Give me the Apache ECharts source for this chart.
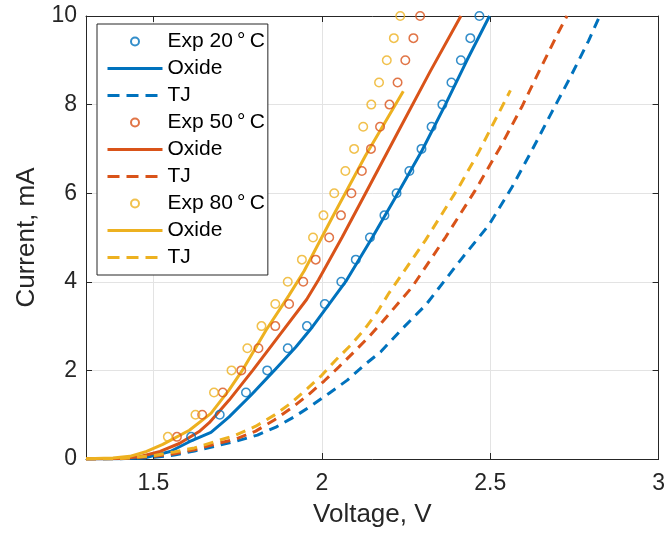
<!DOCTYPE html>
<html><head><meta charset="utf-8">
<script src="https://cdn.jsdelivr.net/npm/echarts@6/dist/echarts.min.js"></script>
<style>html,body{margin:0;padding:0;background:#fff}#c{width:668px;height:533px}</style>
</head><body><div id="c"></div><script>
// Experimental currents (mA) shared by all three temperatures
const expCurrent = [0.5,1,1.5,2,2.5,3,3.5,4,4.5,5,5.5,6,6.5,7,7.5,8,8.5,9,9.5,10];
const exp20V = [1.612,1.697,1.775,1.838,1.899,1.956,2.009,2.058,2.101,2.143,2.186,2.222,2.260,2.296,2.326,2.358,2.385,2.413,2.441,2.468];
const exp50V = [1.570,1.645,1.706,1.761,1.812,1.862,1.903,1.945,1.982,2.022,2.057,2.088,2.119,2.146,2.173,2.201,2.225,2.248,2.272,2.292];
const exp80V = [1.543,1.625,1.680,1.732,1.779,1.821,1.862,1.899,1.941,1.974,2.005,2.037,2.070,2.096,2.123,2.147,2.170,2.193,2.214,2.233];

// Oxide model curves
const oxide20V = [1.3,1.4,1.478,1.55,1.607,1.671,1.725,1.791,1.859,1.923,1.972,2.031,2.074,2.15,2.219,2.298,2.367,2.431,2.498];
const oxide20I = [0,0.006,0.03,0.17,0.39,0.6,0.95,1.45,2.0,2.53,2.98,3.59,4.04,5.0,5.91,6.97,8.0,9.0,10];
const oxide50V = [1.3,1.4,1.459,1.52,1.577,1.636,1.666,1.725,1.795,1.87,1.955,1.99,2.06,2.13,2.229,2.322,2.413];
const oxide50I = [0,0.01,0.05,0.17,0.35,0.62,0.82,1.33,2.0,2.75,3.6,4.04,5.0,6.0,7.42,8.75,10];
const oxide80V = [1.3,1.38,1.43,1.48,1.528,1.607,1.671,1.725,1.764,1.834,1.903,1.948,2.031,2.13,2.242];
const oxide80I = [0.005,0.02,0.06,0.17,0.33,0.65,1.03,1.56,2.0,2.9,3.7,4.25,5.45,6.85,8.3];

// TJ model curves
const tj20V = [1.3,1.4,1.503,1.562,1.622,1.69,1.745,1.809,1.864,1.918,1.972,2.021,2.076,2.126,2.175,2.24,2.308,2.416,2.496,2.565,2.624,2.683,2.738,2.792,2.825];
const tj20I = [0,0.005,0.04,0.09,0.18,0.3,0.4,0.54,0.72,0.95,1.22,1.48,1.78,2.12,2.42,2.95,3.47,4.53,5.28,6.14,6.97,7.83,8.62,9.44,10];
const tj50V = [1.3,1.4,1.503,1.562,1.622,1.69,1.745,1.804,1.859,1.908,1.957,2.007,2.051,2.096,2.14,2.18,2.268,2.367,2.456,2.53,2.594,2.649,2.703,2.728];
const tj50I = [0,0.006,0.06,0.12,0.21,0.35,0.45,0.63,0.88,1.14,1.43,1.76,2.08,2.42,2.76,3.1,3.88,5.0,6.07,7.04,7.95,8.81,9.64,10];
const tj80V = [1.3,1.4,1.503,1.562,1.622,1.69,1.745,1.804,1.859,1.908,1.957,2.0,2.041,2.086,2.126,2.165,2.199,2.308,2.407,2.466,2.56];
const tj80I = [0,0.008,0.08,0.16,0.25,0.41,0.54,0.74,0.99,1.26,1.59,1.89,2.23,2.57,2.92,3.32,3.74,4.94,6.14,6.93,8.32];

const blue = '#0072BD', red = '#D95319', yellow = '#EDB120';
const FONT = '"Liberation Sans", Arial, Helvetica, sans-serif';
const zip = (xs, ys) => xs.map((x, i) => [x, ys[i]]);

function expSeries(name, v, color) {
  return { name, type: 'scatter', data: zip(v, expCurrent), symbol: 'circle', symbolSize: 8.5,
    itemStyle: { color: 'rgba(0,0,0,0)', borderColor: color, borderWidth: 1.5 }, z: 3 };
}
function lineSeries(name, v, i, color, dashed) {
  return { name, type: 'line', data: zip(v, i), symbol: 'none', showSymbol: false,
    lineStyle: { color, width: 3, type: dashed ? [10, 7] : 'solid' }, itemStyle: { color }, z: 3,
    _dashed: dashed };
}

const series = [
  expSeries('Exp 20\u2009°\u2009C', exp20V, blue),
  lineSeries('Oxide#20', oxide20V, oxide20I, blue, false),
  lineSeries('TJ#20', tj20V, tj20I, blue, true),
  expSeries('Exp 50\u2009°\u2009C', exp50V, red),
  lineSeries('Oxide#50', oxide50V, oxide50I, red, false),
  lineSeries('TJ#50', tj50V, tj50I, red, true),
  expSeries('Exp 80\u2009°\u2009C', exp80V, yellow),
  lineSeries('Oxide#80', oxide80V, oxide80I, yellow, false),
  lineSeries('TJ#80', tj80V, tj80I, yellow, true)
];

const axisCol = '#262626';
const chart = echarts.init(document.getElementById('c'), null, { renderer: 'canvas' });
chart.setOption({
  backgroundColor: '#fff',
  animation: false,
  grid: { left: 86, right: 8, top: 16, bottom: 74 },
  xAxis: [
    { type: 'value', min: 1.3, max: 3, splitNumber: 3, position: 'bottom',
      name: 'Voltage, V', nameLocation: 'middle', nameGap: 43,
      nameTextStyle: { fontFamily: FONT, fontSize: 26, color: axisCol },
      axisLine: { show: true, onZero: false, lineStyle: { color: axisCol, width: 1 } },
      axisTick: { show: true, inside: true, length: 6, lineStyle: { color: axisCol } },
      axisLabel: { showMinLabel: false, margin: 13, fontFamily: FONT, fontSize: 23, color: axisCol },
      splitLine: { show: true, lineStyle: { color: '#e3e3e3', width: 1 } } },
    { type: 'value', min: 1.3, max: 3, splitNumber: 3, position: 'top',
      axisLine: { show: true, onZero: false, lineStyle: { color: axisCol, width: 1 } },
      axisTick: { show: true, inside: true, length: 6, lineStyle: { color: axisCol } },
      axisLabel: { show: false }, splitLine: { show: false } }
  ],
  yAxis: [
    { type: 'value', min: 0, max: 10, interval: 2, position: 'left',
      name: 'Current, mA', nameLocation: 'middle', nameGap: 46,
      nameTextStyle: { fontFamily: FONT, fontSize: 26, color: axisCol },
      axisLine: { show: true, onZero: false, lineStyle: { color: axisCol, width: 1 } },
      axisTick: { show: true, inside: true, length: 6, lineStyle: { color: axisCol } },
      axisLabel: { margin: 9, fontFamily: FONT, fontSize: 23, color: axisCol },
      splitLine: { show: true, lineStyle: { color: '#e3e3e3', width: 1 } } },
    { type: 'value', min: 0, max: 10, interval: 2, position: 'right',
      axisLine: { show: true, onZero: false, lineStyle: { color: axisCol, width: 1 } },
      axisTick: { show: true, inside: true, length: 6, lineStyle: { color: axisCol } },
      axisLabel: { show: false }, splitLine: { show: false } }
  ],
  legend: {
    orient: 'vertical', left: 97, top: 24,
    padding: [7, 3, 7, 9], itemGap: 6, itemWidth: 55, itemHeight: 8,
    backgroundColor: '#fff', borderColor: axisCol, borderWidth: 1, borderRadius: 0,
    textStyle: { fontFamily: FONT, fontSize: 21, color: '#000' },
    formatter: name => name.split('#')[0],
    selectedMode: false, z: 10,
    data: series.map(s => s.type === 'line'
      ? { name: s.name, itemStyle: { color: 'rgba(0,0,0,0)', borderWidth: 0, opacity: 0 },
          lineStyle: { width: 3, type: s._dashed ? [12, 7] : 'solid' } }
      : { name: s.name })
  },
  series
});
</script></body></html>
